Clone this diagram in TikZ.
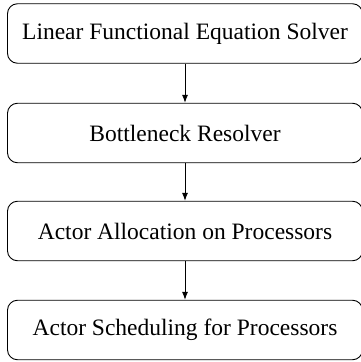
\documentclass[tikz,border=0pt]{standalone}
\usepackage{fontspec}
\setmainfont{Liberation Serif}
\usetikzlibrary{arrows.meta}
\begin{document}
\begin{tikzpicture}[x=1pt,y=1pt,
  stagebox/.style={draw, rounded corners=10pt, line width=0.9pt, minimum width=355pt, minimum height=59.5pt, inner sep=0pt, font=\fontsize{23.5}{28}\selectfont},
  flow/.style={-{Latex[length=8pt,width=6pt]}, line width=0.8pt}]
\useasboundingbox (0,0) rectangle (361,362);
\node[stagebox] (a) at (185,328.5) {Linear Functional Equation Solver};
\node[stagebox] (b) at (185,229) {Bottleneck Resolver};
\node[stagebox] (c) at (185,131) {Actor Allocation on Processors};
\node[stagebox] (d) at (185,32) {Actor Scheduling for Processors};
\draw[flow] (a) -- (b);
\draw[flow] (b) -- (c);
\draw[flow] (c) -- (d);
\end{tikzpicture}
\end{document}
